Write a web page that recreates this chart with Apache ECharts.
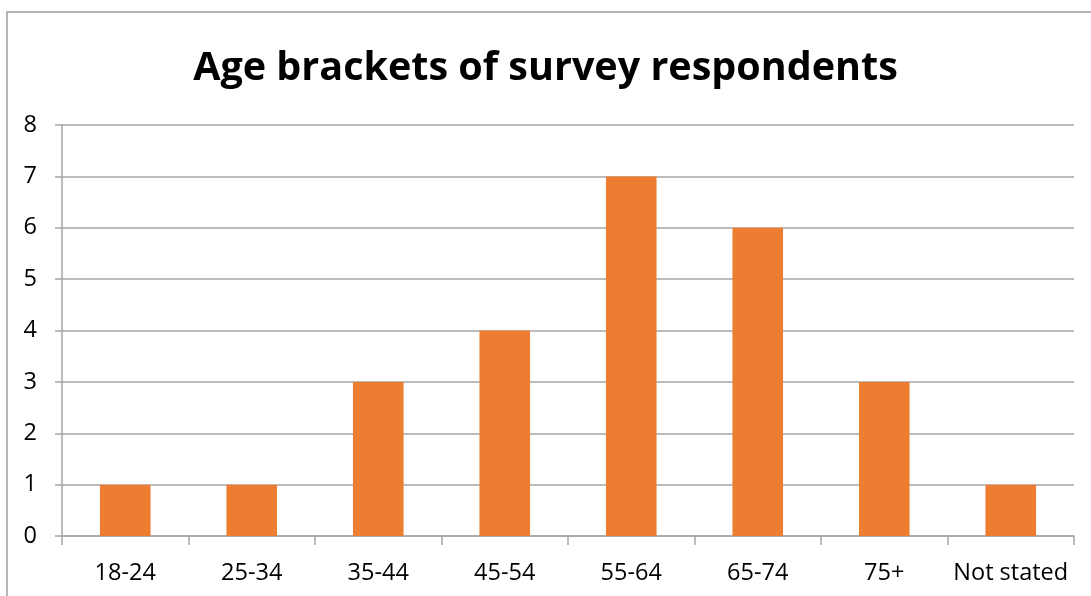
<!DOCTYPE html>
<html>
<head>
<meta charset="utf-8">
<script src="https://cdn.jsdelivr.net/npm/echarts@6/dist/echarts.min.js"></script>
<style>
  html, body { margin: 0; padding: 0; background: #fff; }
  #chart { width: 1091px; height: 596px; }
</style>
</head>
<body>
<div id="chart"></div>
<script>
const categories = ['18-24', '25-34', '35-44', '45-54', '55-64', '65-74', '75+', 'Not stated']
const counts = [1, 1, 3, 4, 7, 6, 3, 1]

const font = 'Open Sans, Liberation Sans, sans-serif'
const lineColor = '#a6a6a6'

var myChart = echarts.init(document.getElementById('chart'))

var option = {
  animation: false,
  title: {
    text: 'Age brackets of survey respondents',
    left: 'center',
    top: 44,
    textStyle: {
      fontFamily: font,
      fontSize: 39.5,
      fontWeight: 'bold',
      color: '#000',
    },
  },
  graphic: [
    {
      type: 'rect',
      shape: { x: 7, y: 12, width: 1200, height: 700 },
      style: { fill: 'none', stroke: '#a0a0a0', lineWidth: 1.5 },
      silent: true,
    },
  ],
  grid: {
    left: 62,
    right: 17,
    top: 125,
    bottom: 60,
  },
  xAxis: {
    type: 'category',
    data: categories,
    axisLine: { lineStyle: { color: lineColor, width: 1.5 } },
    axisTick: { show: true, interval: 0, length: 9, alignWithLabel: false, lineStyle: { color: lineColor, width: 1.5 } },
    axisLabel: { interval: 0, color: '#000', fontFamily: font, fontSize: 23.5, margin: 25 },
  },
  yAxis: {
    type: 'value',
    min: 0,
    max: 8,
    interval: 1,
    axisLine: { show: true, lineStyle: { color: lineColor, width: 1.5 } },
    axisTick: { show: true, length: 7, lineStyle: { color: lineColor, width: 1.5 } },
    axisLabel: { color: '#000', fontFamily: font, fontSize: 23.5, margin: 25 },
    splitLine: { show: true, lineStyle: { color: lineColor, width: 1.5 } },
  },
  series: [
    {
      name: 'Respondents',
      type: 'bar',
      data: counts,
      barWidth: '40%',
      itemStyle: { color: '#ed7d31' },
    },
  ],
}

myChart.setOption(option)
</script>
</body>
</html>
